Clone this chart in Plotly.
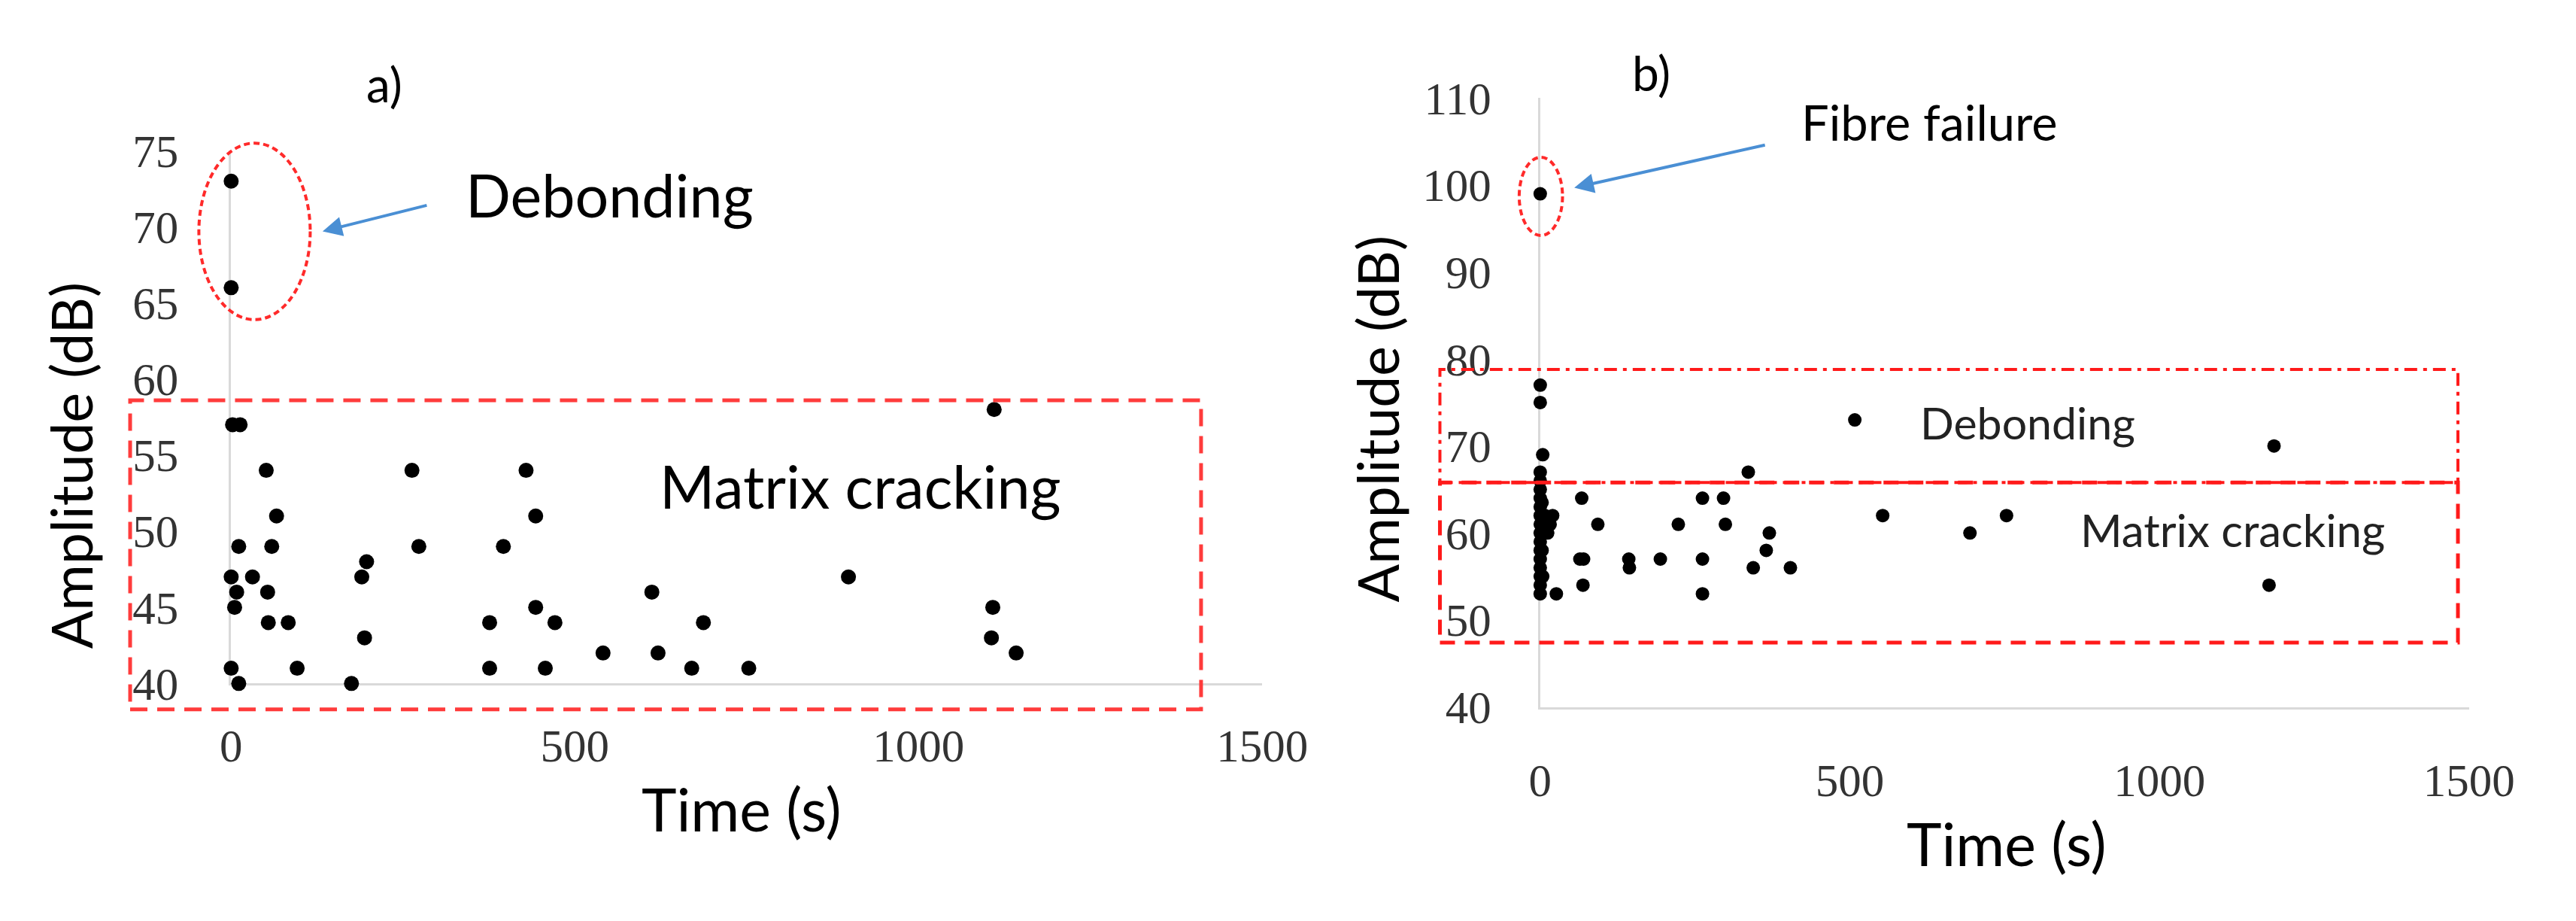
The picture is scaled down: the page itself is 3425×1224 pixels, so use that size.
import plotly.graph_objects as go

# ---------------- data ----------------
# Panel a) : time (s) vs amplitude (dB)
a_time = [0, 0, 2, 13, 51, 66, 11, 59, 0, 31, 8, 53, 5, 54, 83, 0, 11, 96, 175, 190,
          197, 194, 263, 273, 376, 376, 396, 429, 443, 443, 471, 457, 541, 612, 621,
          670, 687, 753, 898, 1110, 1108, 1106, 1142]
a_amp = [73, 66, 57, 57, 54, 51, 49, 49, 47, 47, 46, 46, 45, 44, 44, 41, 40, 41, 40, 47,
         48, 43, 54, 49, 44, 41, 49, 54, 51, 45, 44, 41, 42, 46, 42, 41, 44, 41, 47, 58,
         45, 43, 42]

# Panel b)
b_time = [0, 0, 0, 4, 0, 0, 0, 0, 0, 0, 0, 0, 0, 0, 0, 0, 0, 0, 0, 3, 3, 4, 8, 20, 16,
          12, 26, 67, 93, 64, 70, 69, 143, 144, 194, 223, 262, 262, 262, 296, 299, 336,
          344, 365, 370, 404, 508, 553, 694, 753, 1185, 1177]
b_amp = [99, 77, 75, 69, 67, 66, 65, 64, 63, 62, 61, 60, 59, 58, 57, 56, 55, 54, 53, 63.5,
         58, 55, 62, 62, 61, 60, 53, 64, 61, 57, 57, 54, 57, 56, 57, 61, 64, 57, 53, 64,
         61, 67, 56, 58, 60, 56, 73, 62, 60, 62, 70, 54]

x_ticks = [0, 500, 1000, 1500]
a_y_ticks = [40, 45, 50, 55, 60, 65, 70, 75]
b_y_ticks = [40, 50, 60, 70, 80, 90, 100, 110]

# region annotations (data units)
a_debond_ellipse = dict(x0=-47, x1=115, y0=63.9, y1=75.5)
a_matrix_box = dict(x0=-147, x1=1411, y0=38.3, y1=58.6)
b_fibre_ellipse = dict(x0=-34, x1=36, y0=94.2, y1=103.2)
b_debond_box = dict(x0=-162, x1=1482, y0=65.8, y1=78.8)
b_matrix_box = dict(x0=-162, x1=1482, y0=47.4, y1=65.8)

# ---------------- layout geometry ----------------
W, H = 3425, 1224
A_X = [0, 1500]; A_Y = [40, 75]
B_X = [0, 1500]; B_Y = [40, 110]
a_dom_x = [299 / W, 1701 / W]
a_dom_y = [1 - 926 / H, 1 - 177 / H]
b_dom_x = [2079 / W, 3342 / W]
b_dom_y = [1 - 959 / H, 1 - 103 / H]

TEXT_FONT = "Lato"
TICK_FONT = dict(family="Liberation Serif", size=61, color="#333333")
AXIS_COLOR = "#d9d9d9"

fig = go.Figure()
fig.add_trace(go.Scatter(x=a_time, y=a_amp, mode="markers", xaxis="x", yaxis="y",
                         marker=dict(color="black", size=20), cliponaxis=False,
                         showlegend=False))
fig.add_trace(go.Scatter(x=b_time, y=b_amp, mode="markers", xaxis="x2", yaxis="y2",
                         marker=dict(color="black", size=18), cliponaxis=False,
                         showlegend=False))


def ax_common(rng, ticks, dom, anchor, standoff):
    return dict(range=rng, tickvals=ticks, domain=dom, anchor=anchor,
                showgrid=False, zeroline=False, showline=True, linecolor=AXIS_COLOR,
                linewidth=3, ticks="", tickfont=TICK_FONT, ticklabelstandoff=standoff,
                layer="below traces", fixedrange=True)


fig.update_layout(
    width=W, height=H, autosize=False,
    margin=dict(l=0, r=0, t=0, b=0),
    paper_bgcolor="white", plot_bgcolor="white",
    xaxis=ax_common(A_X, x_ticks, a_dom_x, "y", 27),
    yaxis=ax_common(A_Y, a_y_ticks, a_dom_y, "x", 55),
    xaxis2=ax_common(B_X, x_ticks, b_dom_x, "y2", 42),
    yaxis2=ax_common(B_Y, b_y_ticks, b_dom_y, "x2", 50),
)


def dom(v, rng):
    return (v - rng[0]) / (rng[1] - rng[0])


def add_region(shape_type, box, xs, ys, rngx, rngy, color, width, dash):
    fig.add_shape(type=shape_type, xref=xs + " domain", yref=ys + " domain",
                  x0=dom(box["x0"], rngx), x1=dom(box["x1"], rngx),
                  y0=dom(box["y0"], rngy), y1=dom(box["y1"], rngy),
                  line=dict(color=color, width=width, dash=dash),
                  fillcolor="rgba(0,0,0,0)", layer="above")


add_region("circle", a_debond_ellipse, "x", "y", A_X, A_Y, "#ff2a2a", 4, "8px,5px")
add_region("rect", a_matrix_box, "x", "y", A_X, A_Y, "#ff3b3b", 5, "23px,13px")
add_region("circle", b_fibre_ellipse, "x2", "y2", B_X, B_Y, "#ff2a2a", 4, "8px,5px")
add_region("rect", b_matrix_box, "x2", "y2", B_X, B_Y, "#ff1a1a", 5, "20px,13px")
add_region("rect", b_debond_box, "x2", "y2", B_X, B_Y, "#ff1a1a", 4, "17px,8px,5px,8px")

C = dict(xanchor="center", yanchor="middle", showarrow=False)
ann = []
# panel labels
ann.append(dict(text="a)", xref="paper", yref="paper", x=507 / W, y=1 - 83 / H,
                font=dict(family=TEXT_FONT, size=64, color="black"), **C))
ann.append(dict(text="b)", xref="paper", yref="paper", x=2230 / W, y=1 - 67 / H,
                font=dict(family=TEXT_FONT, size=64, color="black"), **C))
# axis titles
for (xc, yc) in [(81, 620), (1857, 554)]:
    ann.append(dict(text="Amplitude (dB)", xref="paper", yref="paper", x=xc / W,
                    y=1 - yc / H, textangle=-90,
                    font=dict(family=TEXT_FONT, size=75, color="black"), **C))
for (xc, yc) in [(993, 1102), (2713, 1150)]:
    ann.append(dict(text="Time (s)", xref="paper", yref="paper", x=xc / W,
                    y=1 - yc / H,
                    font=dict(family=TEXT_FONT, size=79, color="black"), **C))
# region labels
ann.append(dict(text="Debonding", xref="x", yref="y", x=550, y=72.1,
                font=dict(family=TEXT_FONT, size=79, color="black"), **C))
ann.append(dict(text="Matrix cracking", xref="x", yref="y", x=915, y=53.0,
                font=dict(family=TEXT_FONT, size=79, color="black"), **C))
ann.append(dict(text="Fibre failure", xref="x2", yref="y2", x=629, y=107.3,
                font=dict(family=TEXT_FONT, size=65, color="black"), **C))
ann.append(dict(text="Debonding", xref="x2", yref="y2", x=787, y=72.7,
                font=dict(family=TEXT_FONT, size=59, color="#222"), **C))
ann.append(dict(text="Matrix cracking", xref="x2", yref="y2", x=1118, y=60.4,
                font=dict(family=TEXT_FONT, size=60, color="#222"), **C))
# arrows
ann.append(dict(text="", xref="x", yref="y", x=133, y=69.7, ax=140, ay=-35,
                showarrow=True, arrowhead=2, arrowsize=1.3, arrowwidth=4,
                arrowcolor="#4a8fd4"))
ann.append(dict(text="", xref="x2", yref="y2", x=55, y=99.7, ax=255, ay=-57,
                showarrow=True, arrowhead=2, arrowsize=1.3, arrowwidth=4,
                arrowcolor="#4a8fd4"))
fig.update_layout(annotations=ann)

fig.write_html("out.html", config={"displayModeBar": False},
               post_script="document.body.style.margin='0';")
